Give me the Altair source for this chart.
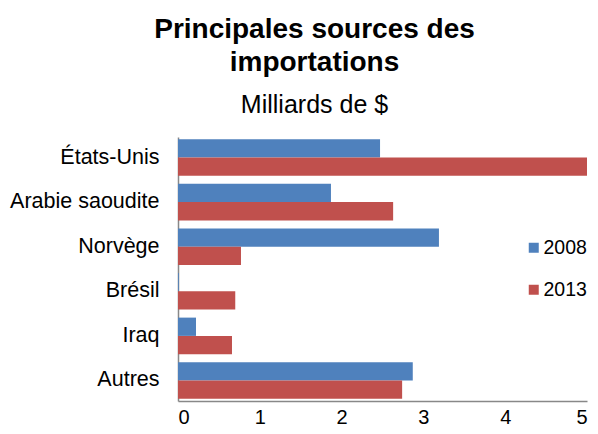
import altair as alt
import pandas as pd

categories = ["États-Unis", "Arabie saoudite", "Norvège", "Brésil", "Iraq", "Autres"]
v2008 = [2.47, 1.87, 3.19, 0.01, 0.22, 2.87]
v2013 = [5.00, 2.63, 0.77, 0.70, 0.66, 2.74]
years = ["2008", "2013"]

rows = []
for c, a, b in zip(categories, v2008, v2013):
    rows.append({"pays": c, "annee": years[0], "valeur": a})
    rows.append({"pays": c, "annee": years[1], "valeur": b})
df = pd.DataFrame(rows)

font = "Liberation Sans"

chart = alt.Chart(df).mark_bar().encode(
    y=alt.Y("pays:N", sort=categories, title=None,
            scale=alt.Scale(paddingInner=0.18, paddingOuter=0.05),
            axis=alt.Axis(labelFontSize=21.5, labelFont=font, labelColor="#000000",
                          domainColor="#888888", domainWidth=1.5, ticks=False,
                          labelPadding=19)),
    yOffset=alt.YOffset("annee:N", sort=years),
    x=alt.X("valeur:Q", title=None,
            scale=alt.Scale(domain=[0, 5]),
            axis=alt.Axis(values=[0, 1, 2, 3, 4, 5], format="d", grid=False,
                          labelFontSize=20, labelFont=font, labelColor="#000000",
                          domainColor="#888888", domainWidth=1.5,
                          ticks=False, labelPadding=6)),
    color=alt.Color("annee:N", sort=years,
                    scale=alt.Scale(domain=years, range=["#4F81BD", "#C0504D"]),
                    legend=alt.Legend(title=None, orient="none", legendX=346, legendY=101,
                                      symbolType="square", symbolSize=100,
                                      labelFontSize=19.5, labelFont=font,
                                      labelColor="#000000", rowPadding=21,
                                      labelOffset=0, symbolStrokeWidth=0)),
).properties(
    width=409,
    height=264,
    title=alt.Title(text=["Principales sources des", "importations"],
                    subtitle="Milliards de $",
                    font=font, fontSize=28, fontWeight="bold", color="#000000",
                    lineHeight=33,
                    subtitleFont=font, subtitleFontSize=25, subtitleColor="#000000",
                    subtitlePadding=16,
                    anchor="middle", dx=-68, offset=19),
    autosize=alt.AutoSizeParams(type="none"),
    padding={"left": 170, "top": 129, "right": 3, "bottom": 25},
).configure_view(stroke=None)

chart.save("out.html", embed_options={"renderer": "svg", "actions": False})
